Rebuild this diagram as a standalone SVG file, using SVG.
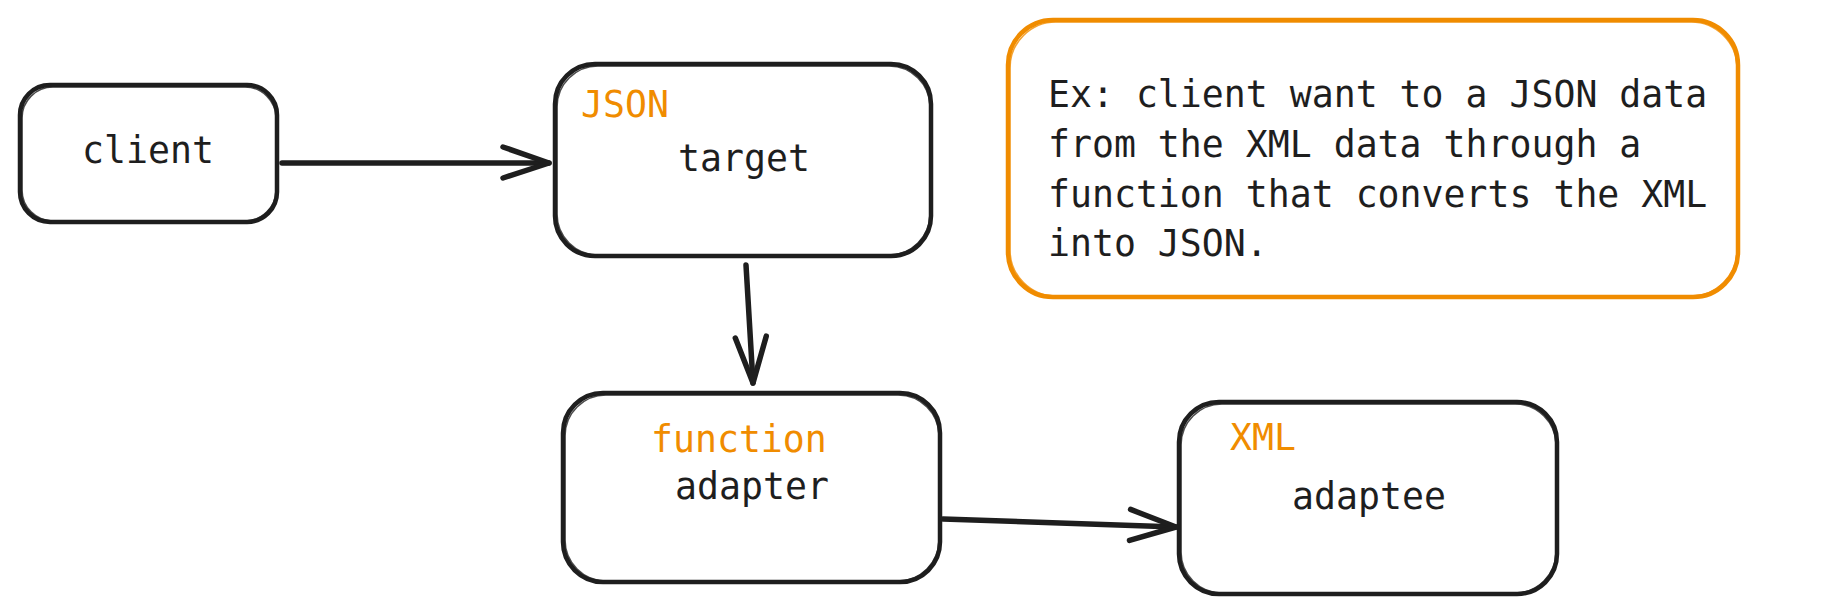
<svg xmlns="http://www.w3.org/2000/svg" width="1825" height="616" viewBox="0 0 1825 616">
<defs>
<style>
.box{fill:#ffffff;stroke:#1e1e1e;stroke-width:4.5;stroke-linejoin:round}
.box2{fill:none;stroke:#1e1e1e;stroke-width:1.6;opacity:0.8}
.note{fill:#ffffff;stroke:#f08c00;stroke-width:4.5}
.note2{fill:none;stroke:#f08c00;stroke-width:1.6;opacity:0.8}
.t{font-family:"DejaVu Sans Mono","Liberation Mono",monospace;font-size:36.5px;fill:#1e1e1e}
.o{fill:#f08c00}
.m{text-anchor:middle}
.conn{fill:none;stroke:#1e1e1e;stroke-width:5.5;stroke-linecap:round}
</style>
<marker id="head" markerUnits="userSpaceOnUse" markerWidth="70" markerHeight="50" viewBox="-60 -25 70 50" refX="0" refY="0" orient="auto">
<path d="M-46,-16 L0,0 L-46,15" fill="none" stroke="#1e1e1e" stroke-width="5.5" stroke-linecap="round" stroke-linejoin="round"/>
</marker>
</defs>
<rect width="1825" height="616" fill="#ffffff"/>

<g id="note">
<rect class="note" x="1008" y="20" width="730" height="277" rx="45"/>
<rect class="note2" x="1010" y="22" width="727" height="274" rx="46"/>
<text class="t" x="1048" y="107">Ex: client want to a JSON data</text>
<text class="t" x="1048" y="157">from the XML data through a</text>
<text class="t" x="1048" y="207">function that converts the XML</text>
<text class="t" x="1048" y="256">into JSON.</text>
</g>

<g id="client">
<rect class="box" x="20" y="85" width="257" height="137" rx="30"/>
<rect class="box2" x="22" y="87" width="254" height="134" rx="31"/>
<text class="t m" x="148" y="163">client</text>
</g>

<g id="target">
<rect class="box" x="555" y="64" width="376" height="192" rx="40"/>
<rect class="box2" x="557" y="66" width="373" height="189" rx="41"/>
<text class="t o" x="581" y="117">JSON</text>
<text class="t m" x="744" y="171">target</text>
</g>

<g id="adapter">
<rect class="box" x="563" y="393" width="377" height="189" rx="40"/>
<rect class="box2" x="565" y="395" width="374" height="186" rx="41"/>
<text class="t o" x="651" y="452">function</text>
<text class="t m" x="752" y="499">adapter</text>
</g>

<g id="adaptee">
<rect class="box" x="1179" y="402" width="378" height="192" rx="40"/>
<rect class="box2" x="1181" y="404" width="375" height="189" rx="41"/>
<text class="t o" x="1230" y="450">XML</text>
<text class="t m" x="1369" y="509">adaptee</text>
</g>

<g id="connectors">
<path class="conn" d="M282,163 L549,163" marker-end="url(#head)"/>
<path class="conn" d="M746,265 L753,383" marker-end="url(#head)"/>
<path class="conn" d="M943,519 L1176,527" marker-end="url(#head)"/>
</g>
</svg>
